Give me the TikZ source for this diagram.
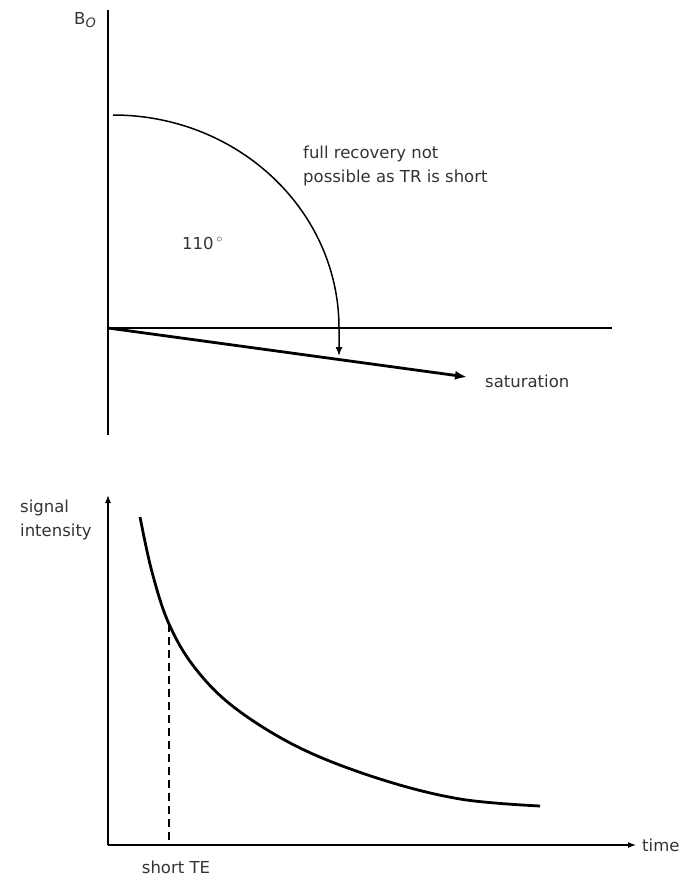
\documentclass[tikz,border=0pt]{standalone}
\usepackage{fontspec}
\setmainfont{DejaVu Sans}
\usetikzlibrary{arrows.meta}
\definecolor{txt}{HTML}{333333}
\begin{document}
\begin{tikzpicture}[x=1pt,y=-1pt,
  axis/.style={line width=1.3pt},
  thick line/.style={line width=2.8pt},
  lbl/.style={text=txt,font=\fontsize{16.5}{24}\selectfont,inner sep=0pt}]
\useasboundingbox (0,0) rectangle (695,877);
% top diagram
\coordinate (vtop) at (108,10);
\coordinate (vbot) at (108,435);
\coordinate (o) at (108,328);
\coordinate (hend) at (612,328);
\coordinate (arcstart) at (113,115);
\coordinate (sat) at (467,377);
\draw[axis] (vtop) -- (vbot);
\draw[axis] (o) -- (hend);
\draw[line width=1.5pt,-{Latex[length=9pt,width=7pt]}] (arcstart) arc[start angle=-90,end angle=0,x radius=226,y radius=213] -- ++(0,28) coordinate (arcend);
\draw[thick line,-{Latex[length=12pt,width=9pt]}] (o) -- (sat);
\node[lbl,anchor=west] (b0) at (74,20) {B\raisebox{-0.4ex}{\fontsize{13}{14}\selectfont\itshape O}};
\node[lbl,anchor=west] (ang) at (182,243) {110\,$^\circ$};
\node[lbl,anchor=north west,align=left] (rec) at (303,146) {full recovery not\\possible as TR is short};
\node[lbl,anchor=west] (satl) at (485,381) {saturation};
% bottom diagram
\coordinate (bo) at (108,845);
\coordinate (ytop) at (108,495);
\coordinate (xend) at (636,845);
\draw[axis,-{Latex[length=8pt,width=6pt]}] (bo) -- (ytop);
\draw[axis,-{Latex[length=8pt,width=6pt]}] (bo) -- (xend);
\draw[thick line] plot[smooth,tension=0.6] coordinates {(140,517) (152,572) (169,624) (195,668) (235,708) (300,748) (380,779) (460,799) (540,806)};
\coordinate (te) at (169,624);
\coordinate (tebot) at (169,845);
\draw[line width=1.4pt,dash pattern=on 8pt off 5pt] (te) -- (tebot);
\node[lbl,anchor=west] (time) at (642,845) {time};
\node[lbl,anchor=north west,align=left] (sig) at (20,500) {signal\\intensity};
\node[lbl] (ste) at (176,867) {short TE};
\end{tikzpicture}
\end{document}
